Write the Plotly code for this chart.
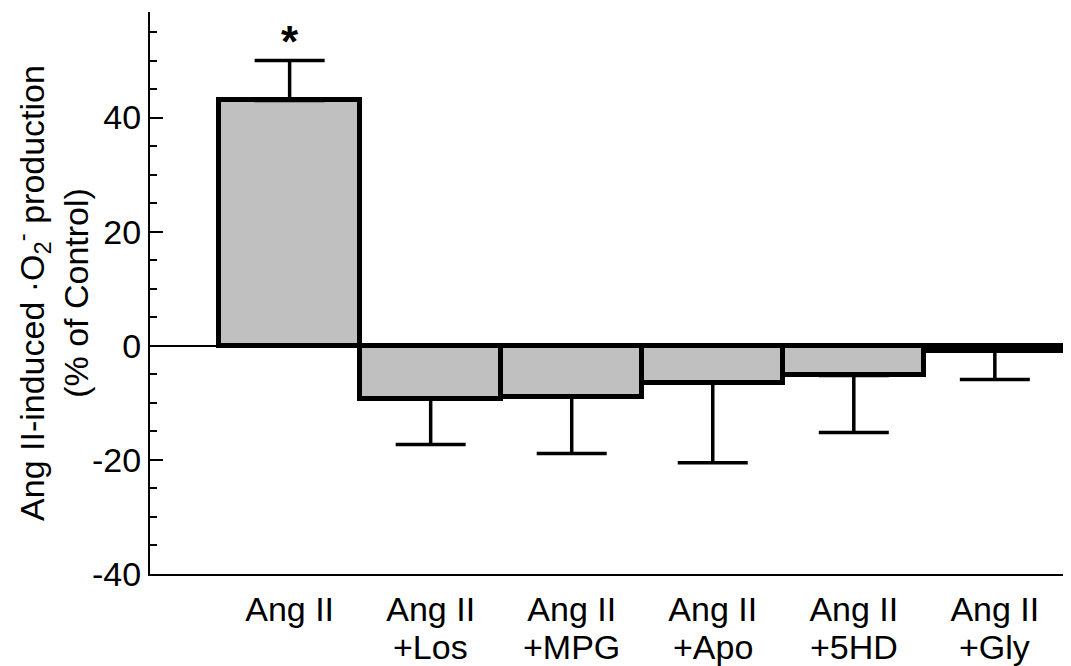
import plotly.graph_objects as go

label_line1 = ["Ang II", "Ang II", "Ang II", "Ang II", "Ang II", "Ang II"]
label_line2 = ["", "+Los", "+MPG", "+Apo", "+5HD", "+Gly"]
values = [43.0, -9.3, -8.9, -6.5, -5.2, -0.9]
errors = [7.0, 8.0, 10.0, 14.0, 10.0, 5.0]
significance = ["*", "", "", "", "", ""]

categories = [(a + " " + b).strip() for a, b in zip(label_line1, label_line2)]
err_plus = [e if v >= 0 else 0 for v, e in zip(values, errors)]
err_minus = [e if v < 0 else 0 for v, e in zip(values, errors)]

FONT = "Liberation Sans, Arial, Helvetica, sans-serif"

fig = go.Figure()
fig.add_trace(go.Bar(
    x=categories,
    y=values,
    width=1.0,
    marker=dict(color="#c0c0c0", line=dict(color="black", width=5)),
    error_y=dict(type="data", symmetric=False, array=err_plus, arrayminus=err_minus,
                 color="black", thickness=3.5, width=35),
    showlegend=False,
))

for c, v, e, s in zip(categories, values, errors, significance):
    if s:
        fig.add_annotation(x=c, y=v + e, text="<b>" + s + "</b>", showarrow=False,
                           yanchor="bottom", yshift=-7,
                           font=dict(family=FONT, size=44, color="black"))

# second line of the category labels
for c, t in zip(categories, label_line2):
    if t:
        fig.add_annotation(x=c, y=0, xref="x", yref="paper", text=t, showarrow=False,
                           yanchor="top", yshift=-52,
                           font=dict(family=FONT, size=34, color="black"))

fig.update_layout(
    width=1063, height=658,
    margin=dict(l=142, r=0, t=4, b=92, autoexpand=False),
    paper_bgcolor="white", plot_bgcolor="white",
    bargap=0,
    font=dict(family=FONT, size=34, color="black"),
    xaxis=dict(
        type="category",
        automargin=False,
        range=[-0.99, 5.54],
        tickmode="array", tickvals=categories, ticktext=label_line1,
        showline=True, linecolor="black", linewidth=2,
        ticks="", showgrid=False, zeroline=False,
        ticklabelstandoff=4,
        tickfont=dict(family=FONT, size=34, color="black"),
    ),
    yaxis=dict(
        automargin=False,
        range=[-40, 58.5],
        tickmode="array",
        tickvals=[-40, -20, 0, 20, 40],
        ticktext=["-40", "-20", "0", "20", "40"],
        ticks="inside", ticklen=13, tickwidth=2, tickcolor="black",
        minor=dict(dtick=5, tick0=0, ticks="inside", ticklen=7, tickwidth=2, tickcolor="black", showgrid=False),
        showline=True, linecolor="black", linewidth=2,
        showgrid=False,
        zeroline=True, zerolinecolor="black", zerolinewidth=2,
        tickfont=dict(family=FONT, size=34, color="black"),
        ticklabelstandoff=0,
        title=dict(text="Ang II-induced ·O<sub>2</sub><sup>-</sup> production<br>(% of Control)",
                   font=dict(family=FONT, size=34, color="black"), standoff=4),
    ),
)

fig.write_html("out.html")
